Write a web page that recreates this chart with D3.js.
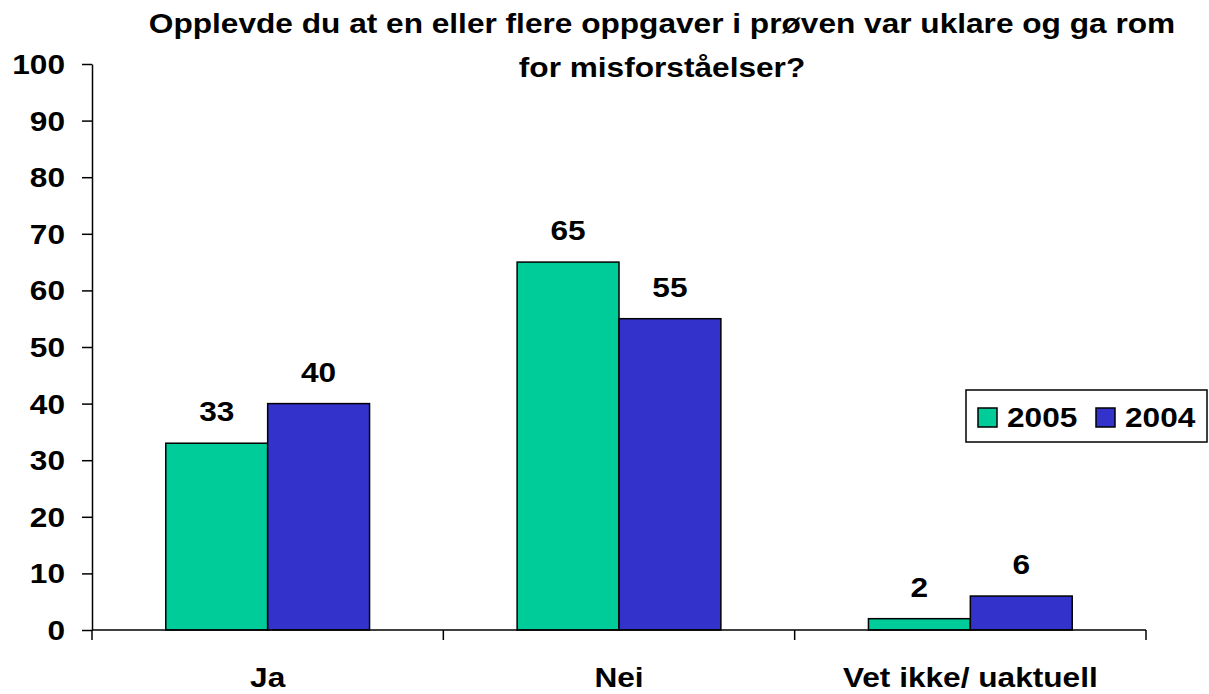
<!DOCTYPE html>
<html><head><meta charset="utf-8">
<script src="https://cdn.jsdelivr.net/npm/d3@7"></script>
<style>body{margin:0;background:#fff}svg{display:block}text{font-family:"Liberation Sans",Arial,sans-serif;font-weight:bold;fill:#000}</style>
</head><body>
<script>
const categories = ["Ja", "Nei", "Vet ikke/ uaktuell"];
const seriesNames = ["2005", "2004"];
const values2005 = [33, 65, 2];
const values2004 = [40, 55, 6];
const yTicks = [0, 10, 20, 30, 40, 50, 60, 70, 80, 90, 100];
const titleLines = ["Opplevde du at en eller flere oppgaver i prøven var uklare og ga rom", "for misforståelser?"];
const colors = ["#00CC99", "#3333CC"];

(function () {
const W = 1209, H = 694;
const SX = 1.13, FS = 28;
const svg = d3.select("body").append("svg").attr("width", W).attr("height", H);
const mLeft = 92, mRight = 1146, mTop = 64, mBottom = 630;

function label(parent, x, y, txt, anchor) {
  return parent.append("text")
    .attr("transform", `translate(${x},${y}) scale(${SX},1)`)
    .attr("text-anchor", anchor || "start")
    .attr("font-size", FS).text(txt);
}

const x0 = d3.scaleBand().domain(categories).range([mLeft, mRight]).paddingInner(0).paddingOuter(0);
const y = d3.scaleLinear().domain([0, 100]).range([mBottom, mTop]);
const groupW = x0.bandwidth() * 0.58;
const x1 = d3.scaleBand().domain(seriesNames).range([0, groupW]);

const data = categories.map((c, i) => ({cat: c, vals: [values2005[i], values2004[i]]}));

const g = svg.append("g");
data.forEach(d => {
  const gx = x0(d.cat) + (x0.bandwidth() - groupW) / 2;
  d.vals.forEach((v, j) => {
    const bx = gx + x1(seriesNames[j]);
    g.append("rect").attr("x", bx).attr("y", y(v)).attr("width", x1.bandwidth()).attr("height", y(0) - y(v))
      .attr("fill", colors[j]).attr("stroke", "#000").attr("stroke-width", 1.5);
    label(g, bx + x1.bandwidth() / 2, y(v) - 22, v, "middle");
  });
});

// y axis
const yAxis = d3.axisLeft(y).tickValues(yTicks).tickSize(10).tickSizeOuter(0).tickFormat("");
const ya = svg.append("g").attr("transform", `translate(${mLeft},0)`).call(yAxis);
ya.selectAll("path, line").attr("stroke", "#000").attr("stroke-width", 1.5);
yTicks.forEach(t => label(svg, 65, y(t) + 10, t, "end"));

// x axis
const xa = svg.append("g").attr("transform", `translate(0,${mBottom})`);
xa.append("line").attr("x1", mLeft).attr("x2", mRight).attr("y1", 0).attr("y2", 0).attr("stroke", "#000").attr("stroke-width", 1.5);
const tickXs = categories.map(c => x0(c)).concat([mRight]);
tickXs.forEach(tx => xa.append("line").attr("x1", tx).attr("x2", tx).attr("y1", 0).attr("y2", 10).attr("stroke", "#000").attr("stroke-width", 1.5));
categories.forEach(c => label(xa, x0(c) + x0.bandwidth() / 2, 57, c, "middle"));

// title
const titleY = [33, 77];
titleLines.forEach((t, i) => label(svg, 662, titleY[i], t, "middle"));

// legend
const lg = svg.append("g");
lg.append("rect").attr("x", 966).attr("y", 390).attr("width", 241).attr("height", 52).attr("fill", "#fff").attr("stroke", "#000").attr("stroke-width", 1.5);
const legX = [978, 1096];
seriesNames.forEach((s, j) => {
  lg.append("rect").attr("x", legX[j]).attr("y", 408).attr("width", 19).attr("height", 19).attr("fill", colors[j]).attr("stroke", "#000").attr("stroke-width", 1.5);
  label(lg, legX[j] + 29, 427, s, "start");
});
})();
</script>
</body></html>
